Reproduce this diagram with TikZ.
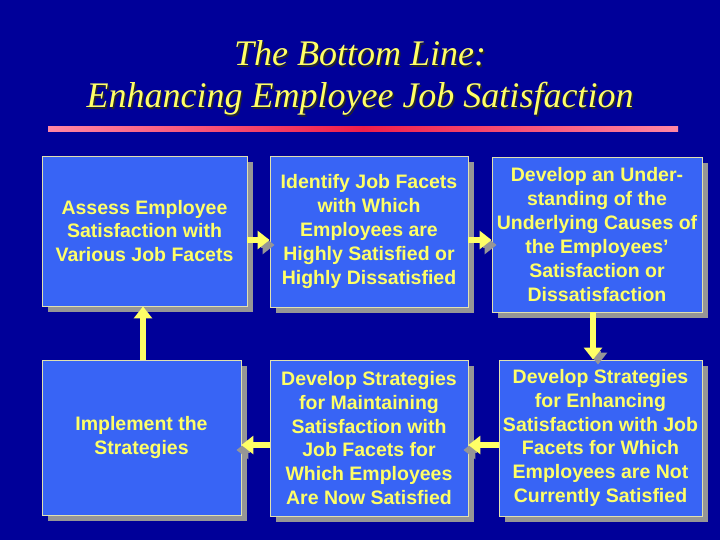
\documentclass[tikz,border=0pt]{standalone}
\usepackage{fontspec}
\setmainfont{Liberation Serif}
\newfontfamily\boxfont{Liberation Sans}
\usetikzlibrary{arrows.meta,shadows,calc}
\definecolor{bgblue}{RGB}{0,0,153}
\definecolor{boxblue}{RGB}{56,100,245}
\definecolor{txtyellow}{RGB}{255,255,102}
\definecolor{shadowgray}{RGB}{150,150,150}
\definecolor{edgecol}{RGB}{225,225,175}
\definecolor{pinkc}{RGB}{255,135,165}
\definecolor{redc}{RGB}{240,30,75}
\tikzset{
  stepbox/.style={draw=edgecol, line width=0.9pt, fill=boxblue, text=txtyellow,
    align=center, inner sep=0pt,
    font=\boxfont\bfseries\fontsize{19.5}{23.9}\selectfont,
    drop shadow={shadow xshift=6pt, shadow yshift=-6pt, fill=shadowgray, opacity=1}},
  flowarrow/.style={draw=txtyellow, line width=6pt,
    -{Triangle[width=18pt,length=12pt]}},
  flowshadow/.style={draw=shadowgray, line width=6pt,
    -{Triangle[width=18pt,length=12pt]}},
  titletext/.style={font=\itshape\fontsize{36}{42}\selectfont}
}
\begin{document}
\begin{tikzpicture}[x=1pt,y=-1pt]
\fill[bgblue] (0,0) rectangle (720,540);
\useasboundingbox (0,0) rectangle (720,540);
% title
\node[titletext, text=black!85, anchor=base] (t1s) at (361.5,67.5) {The Bottom Line:};
\node[titletext, text=txtyellow, anchor=base] (t1) at (360,66) {The Bottom Line:};
\node[titletext, text=black!85, anchor=base] (t2s) at (361.5,109.5) {Enhancing Employee Job Satisfaction};
\node[titletext, text=txtyellow, anchor=base] (t2) at (360,108) {Enhancing Employee Job Satisfaction};
% underline
\shade[left color=pinkc, right color=pinkc, middle color=redc] (48,127) rectangle (678,132);
% boxes
\node[stepbox, minimum width=205pt, minimum height=150pt] (b1) at (144.5,231)
  {Assess Employee\\Satisfaction with\\Various Job Facets};
\node[stepbox, minimum width=198pt, minimum height=151pt] (b2) at (369,231.5)
  {Identify Job Facets\\with Which\\Employees are\\Highly Satisfied or\\Highly Dissatisfied};
\node[stepbox, minimum width=210pt, minimum height=155pt] (b3) at (597,234.5)
  {Develop an Under-\\standing of the\\Underlying Causes of\\the Employees’\\Satisfaction or\\Dissatisfaction};
\node[stepbox, minimum width=199pt, minimum height=155pt] (b4) at (141.5,437.5)
  {Implement the\\Strategies};
\node[stepbox, minimum width=198pt, minimum height=156pt] (b5) at (369,438)
  {Develop Strategies\\for Maintaining\\Satisfaction with\\Job Facets for\\Which Employees\\Are Now Satisfied};
\node[stepbox, minimum width=203pt, minimum height=156pt] (b6) at (600.5,438)
  {Develop Strategies\\for Enhancing\\Satisfaction with Job\\Facets for Which\\Employees are Not\\Currently Satisfied};
% connector end points
\coordinate (a1s) at ([yshift=-9pt]b1.east);
\coordinate (a1e) at (a1s -| b2.west);
\coordinate (a2s) at ([yshift=-8.5pt]b2.east);
\coordinate (a2e) at (a2s -| b3.west);
\coordinate (a3s) at ([xshift=-4pt]b3.south);
\coordinate (a3e) at (a3s |- b6.north);
\coordinate (a4s) at ([yshift=-7pt]b6.west);
\coordinate (a4e) at (a4s -| b5.east);
\coordinate (a5s) at ([yshift=-7pt]b5.west);
\coordinate (a5e) at (a5s -| b4.east);
\coordinate (a6s) at ([xshift=1.5pt]b4.north);
\coordinate (a6e) at (a6s |- b1.south);
% arrow shadows (head only)
\draw[flowshadow, transform canvas={shift={(5pt,-5pt)}}] ($(a1e)!14pt!(a1s)$) -- (a1e);
\draw[flowshadow, transform canvas={shift={(5pt,-5pt)}}] ($(a2e)!14pt!(a2s)$) -- (a2e);
\draw[flowshadow, transform canvas={shift={(5pt,-5pt)}}] ($(a3e)!14pt!(a3s)$) -- (a3e);
\draw[flowshadow, transform canvas={shift={(-5pt,-5pt)}}] ($(a4e)!14pt!(a4s)$) -- (a4e);
\draw[flowshadow, transform canvas={shift={(-5pt,-5pt)}}] ($(a5e)!14pt!(a5s)$) -- (a5e);
% arrows
\draw[flowarrow] (a1s) -- (a1e);
\draw[flowarrow] (a2s) -- (a2e);
\draw[flowarrow] (a3s) -- (a3e);
\draw[flowarrow] (a4s) -- (a4e);
\draw[flowarrow] (a5s) -- (a5e);
\draw[flowarrow] (a6s) -- (a6e);
\end{tikzpicture}
\end{document}
